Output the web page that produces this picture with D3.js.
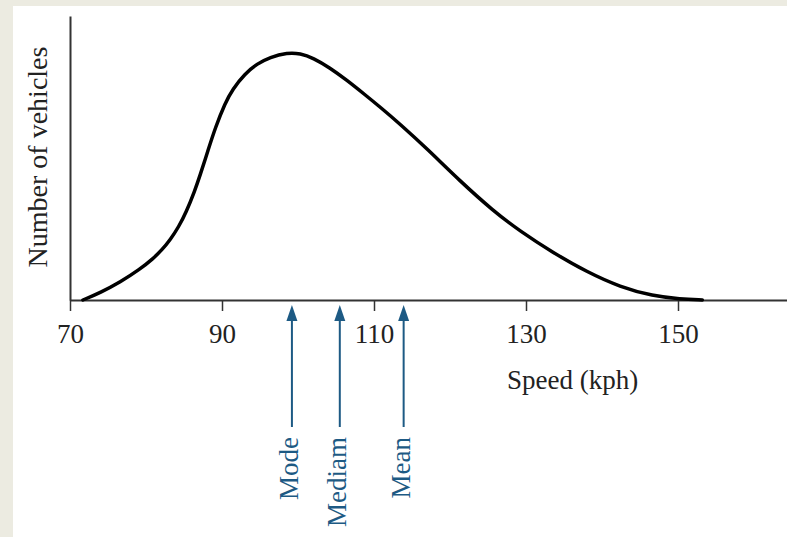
<!DOCTYPE html>
<html>
<head>
<meta charset="utf-8">
<script src="https://cdn.jsdelivr.net/npm/d3@7"></script>
<style>
  html, body { margin: 0; padding: 0; background: #ecebe1; }
  svg { display: block; }
</style>
</head>
<body>
<div id="chart"></div>
<script>
  // скорость (км/ч) и относительное число машин
  const speeds = [71.7, 74.0, 76.6, 79.2, 80.9, 82.1, 83.2, 84.3, 85.3, 86.4, 87.1, 88.2, 89.1, 90.4, 91.4,
                  93.0, 94.6, 96.3, 98.6, 100.3, 102.0, 104.2, 106.4, 108.8, 110.8, 113.4, 117.0,
                  121.3, 125.7, 129.2, 133.6, 138.0, 142.4, 146.7, 150.3, 153.2];
  const counts = [0, 3.0, 7.2, 12.4, 16.6, 20.2, 24.3, 29.5, 35.5, 43.9, 50.1, 60.7, 69.3, 79.4, 85.0,
                  91.2, 95.2, 97.9, 99.7, 99.4, 97.6, 93.6, 88.7, 82.8, 77.8, 71.0, 60.9,
                  48.0, 35.9, 27.8, 19.0, 11.3, 5.2, 1.6, 0.4, 0];
  const xTicks = [70, 90, 110, 130, 150];
  const markerNames = ['Mode', 'Mediam', 'Mean'];
  const markerSpeeds = [99.2, 105.5, 113.9];

  const W = 787, H = 537;
  const blue = '#1d5a84';
  const serif = '"Liberation Serif", "Times New Roman", serif';

  const svg = d3.select('#chart').append('svg')
    .attr('width', W).attr('height', H);

  svg.append('rect')
    .attr('x', 13).attr('y', 6)
    .attr('width', W - 13).attr('height', H - 6)
    .attr('fill', '#ffffff');

  const x = d3.scaleLinear().domain([70, 70 + 717 / 7.6]).range([70, 787]);
  const y = d3.scaleLinear().domain([0, 114.5]).range([300, 16]);

  // оси
  const xAxis = svg.append('g')
    .attr('transform', `translate(0,${y(0)})`)
    .call(d3.axisBottom(x).tickValues(xTicks).tickSize(11).tickSizeOuter(0));
  xAxis.select('.domain').attr('stroke', '#333').attr('stroke-width', 2);
  xAxis.selectAll('.tick line').attr('stroke', '#333').attr('stroke-width', 1.5);
  xAxis.selectAll('.tick text')
    .attr('y', 43).attr('dy', 0)
    .attr('fill', '#222')
    .attr('font-family', serif)
    .attr('font-size', 27);

  const yAxis = svg.append('g')
    .attr('transform', `translate(${x(70)},0)`)
    .call(d3.axisLeft(y).tickValues([]).tickSizeOuter(0));
  yAxis.select('.domain').attr('stroke', '#333').attr('stroke-width', 2);

  // подписи осей
  svg.append('text')
    .attr('x', 507).attr('y', 389)
    .attr('font-family', serif)
    .attr('font-size', 27).attr('fill', '#222')
    .text('Speed (kph)');

  svg.append('text')
    .attr('transform', 'translate(47,157) rotate(-90)')
    .attr('text-anchor', 'middle')
    .attr('font-family', serif)
    .attr('font-size', 28).attr('fill', '#222')
    .text('Number of vehicles');

  // кривая распределения (сглаживаем B-сплайном)
  const pts = speeds.map((s, i) => [s, counts[i]]);
  svg.append('path')
    .datum(pts)
    .attr('fill', 'none')
    .attr('stroke', '#000')
    .attr('stroke-width', 3.5)
    .attr('stroke-linecap', 'round')
    .attr('d', d3.line().x(d => x(d[0])).y(d => y(d[1])).curve(d3.curveBasis));

  // стрелки Mode / Median / Mean
  markerNames.forEach((name, i) => {
    const ax = x(markerSpeeds[i]);
    const g = svg.append('g').attr('class', 'marker');
    g.append('line')
      .attr('x1', ax).attr('x2', ax)
      .attr('y1', 318).attr('y2', 427)
      .attr('stroke', blue).attr('stroke-width', 2);
    g.append('path')
      .attr('d', `M${ax},305 L${ax - 5.5},321 L${ax + 5.5},321 Z`)
      .attr('fill', blue);
    g.append('text')
      .attr('transform', `translate(${ax + 6},437) rotate(-90)`)
      .attr('text-anchor', 'end')
      .attr('font-family', serif)
      .attr('font-size', 27).attr('fill', blue)
      .text(name);
  });
</script>
</body>
</html>
